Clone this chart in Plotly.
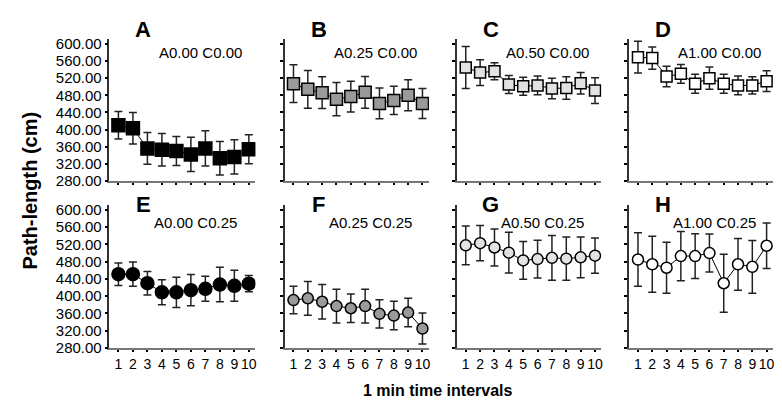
import plotly.graph_objects as go

W, H = 782, 412

intervals = [1, 2, 3, 4, 5, 6, 7, 8, 9, 10]
x_tick_labels = ["1", "2", "3", "4", "5", "6", "7", "8", "9", "10"]
y_tick_vals = [280, 320, 360, 400, 440, 480, 520, 560, 600]

panel_letters = ["A", "B", "C", "D", "E", "F", "G", "H"]
panel_titles = ["A0.00 C0.00", "A0.25 C0.00", "A0.50 C0.00", "A1.00 C0.00",
                "A0.00 C0.25", "A0.25 C0.25", "A0.50 C0.25", "A1.00 C0.25"]

mean_A = [410, 403, 356, 353, 350, 342, 356, 333, 336, 354]
err_A = [32, 37, 37, 38, 34, 40, 41, 39, 40, 34]
mean_B = [507, 494, 486, 471, 477, 487, 461, 468, 480, 461]
err_B = [44, 44, 37, 39, 36, 37, 36, 33, 36, 35]
mean_C = [545, 533, 536, 505, 501, 503, 496, 497, 508, 491]
err_C = [49, 30, 20, 21, 21, 22, 24, 26, 25, 30]
mean_D = [569, 567, 524, 530, 507, 520, 507, 503, 503, 513]
err_D = [37, 26, 24, 22, 22, 26, 22, 22, 20, 24]
mean_E = [451, 451, 430, 409, 409, 414, 417, 427, 424, 429]
err_E = [26, 28, 27, 29, 35, 36, 29, 40, 36, 19]
mean_F = [391, 395, 387, 377, 372, 377, 359, 355, 362, 325]
err_F = [32, 39, 40, 39, 33, 39, 33, 33, 33, 36]
mean_G = [518, 523, 513, 501, 483, 486, 489, 487, 490, 494]
err_G = [45, 41, 43, 47, 44, 44, 52, 50, 47, 41]
mean_H = [485, 474, 466, 493, 493, 500, 430, 474, 468, 517]
err_H = [62, 65, 59, 57, 52, 44, 67, 60, 61, 53]

means = [mean_A, mean_B, mean_C, mean_D, mean_E, mean_F, mean_G, mean_H]
errs = [err_A, err_B, err_C, err_D, err_E, err_F, err_G, err_H]
symbols = ["square"] * 4 + ["circle"] * 4
fills = ["#000000", "#9a9a9a", "#e2e2e2", "#ffffff",
         "#000000", "#9a9a9a", "#e2e2e2", "#ffffff"]
sizes = [13, 12, 11, 11, 13, 11, 11, 11]

col_px = [(101.7, 248), (277.3, 422), (450, 595), (622.7, 767)]
row_px = [(28, 174), (199, 346)]

def px_x(p):
    return p / W

def px_y(p):
    return 1 - p / H

fig = go.Figure()
font_fam = "Liberation Sans, Arial, sans-serif"

for i in range(8):
    r, c = divmod(i, 4)
    n = i + 1
    xa = "x" if n == 1 else f"x{n}"
    ya = "y" if n == 1 else f"y{n}"
    fig.add_trace(go.Scatter(
        x=intervals, y=means[i], xaxis=xa, yaxis=ya, mode="lines+markers",
        line=dict(color="black", width=1),
        marker=dict(symbol=symbols[i], size=sizes[i], color=fills[i],
                    line=dict(color="black", width=1.5)),
        error_y=dict(type="data", array=errs[i], color="#222", thickness=1.5, width=4),
        showlegend=False,
    ))
    x0, x1 = col_px[c]
    y0, y1 = row_px[r]
    xkey = "xaxis" if n == 1 else f"xaxis{n}"
    ykey = "yaxis" if n == 1 else f"yaxis{n}"
    fig.layout[xkey] = dict(
        domain=[px_x(x0), px_x(x1)], anchor=ya, range=[0.38, 10.45],
        tickvals=intervals, ticktext=x_tick_labels, showticklabels=(r == 1),
        ticks="outside", ticklen=2, tickwidth=2, tickcolor="black",
        showline=True, linecolor="#777", linewidth=2, showgrid=False, zeroline=False,
        tickfont=dict(family=font_fam, size=14, color="black"), fixedrange=True,
    )
    fig.layout[ykey] = dict(
        domain=[px_y(y1), px_y(y0)], anchor=xa, range=[280, 611],
        tickvals=y_tick_vals, tickformat=".2f", showticklabels=(c == 0),
        ticks="outside", ticklen=3, tickwidth=2, tickcolor="black",
        showline=True, linecolor="#333", linewidth=1.5, showgrid=False, zeroline=False,
        tickfont=dict(family=font_fam, size=15, color="black"), fixedrange=True,
    )
    fig.add_annotation(x=px_x(x0 + 34), y=px_y(18 if r == 0 else 198), xref="paper", yref="paper",
                       text=f"<b>{panel_letters[i]}</b>", showarrow=False,
                       font=dict(family=font_fam, size=22, color="black"),
                       xanchor="center", yanchor="middle")
    fig.add_annotation(x=px_x(x0 + (91 if r == 0 else 86)), y=px_y(42 if r == 0 else 217),
                       xref="paper", yref="paper",
                       text=panel_titles[i], showarrow=False,
                       font=dict(family=font_fam, size=15, color="black"),
                       xanchor="center", yanchor="middle")

fig.add_annotation(x=px_x(22), y=px_y(184), xref="paper", yref="paper",
                   text="<b>Path-length (cm)</b>", showarrow=False, textangle=-90,
                   font=dict(family=font_fam, size=20, color="black"),
                   xanchor="center", yanchor="middle")
fig.add_annotation(x=px_x(431), y=px_y(390), xref="paper", yref="paper",
                   text="<b>1 min time intervals</b>", showarrow=False,
                   font=dict(family=font_fam, size=16, color="black"),
                   xanchor="center", yanchor="middle")

fig.update_layout(width=W, height=H, margin=dict(l=0, r=0, t=0, b=0),
                  paper_bgcolor="white", plot_bgcolor="white")

fig.write_html("out.html")
